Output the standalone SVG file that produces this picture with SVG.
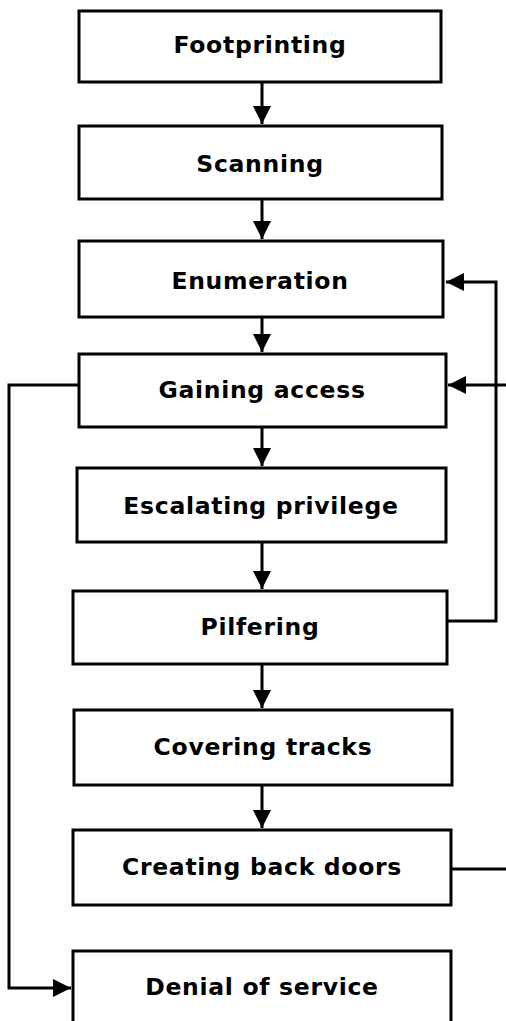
<svg xmlns="http://www.w3.org/2000/svg" width="506" height="1021" viewBox="0 0 506 1021">
<style>
.box{fill:#fff;stroke:#000;stroke-width:3}
.lbl{font-family:"DejaVu Sans",sans-serif;font-weight:bold;font-size:23.5px;letter-spacing:0.7px;fill:#000;text-anchor:middle}
.ln{fill:none;stroke:#000;stroke-width:3}
</style>
<defs>
<marker id="ah" viewBox="0 0 10 10" refX="10" refY="5" markerWidth="6" markerHeight="6" orient="auto" markerUnits="strokeWidth">
<path d="M0,0 L10,5 L0,10 z" fill="#000"/>
</marker>
</defs>
<rect width="506" height="1021" fill="#fff"/>
<g id="connectors">
<line class="ln" x1="262" y1="82" x2="262" y2="124" marker-end="url(#ah)"/>
<line class="ln" x1="262" y1="199" x2="262" y2="239" marker-end="url(#ah)"/>
<line class="ln" x1="262" y1="317" x2="262" y2="352" marker-end="url(#ah)"/>
<line class="ln" x1="262" y1="427" x2="262" y2="466" marker-end="url(#ah)"/>
<line class="ln" x1="262" y1="542" x2="262" y2="589" marker-end="url(#ah)"/>
<line class="ln" x1="262" y1="664" x2="262" y2="708" marker-end="url(#ah)"/>
<line class="ln" x1="262" y1="785" x2="262" y2="828" marker-end="url(#ah)"/>
<polyline class="ln" points="447,621 496,621 496,282 446,282" marker-end="url(#ah)"/>
<line class="ln" x1="506" y1="385" x2="448" y2="385" marker-end="url(#ah)"/>
<line class="ln" x1="451" y1="869" x2="506" y2="869"/>
<polyline class="ln" points="79,385 9,385 9,988 71,988" marker-end="url(#ah)"/>
</g>
<g id="footprinting"><rect class="box" x="79" y="11" width="362" height="71"/><text class="lbl" x="260" y="53">Footprinting</text></g>
<g id="scanning"><rect class="box" x="79" y="126" width="363" height="73"/><text class="lbl" x="260" y="172">Scanning</text></g>
<g id="enumeration"><rect class="box" x="79" y="241" width="364" height="76"/><text class="lbl" x="260" y="289">Enumeration</text></g>
<g id="gaining-access"><rect class="box" x="79" y="354" width="367" height="73"/><text class="lbl" x="262" y="398">Gaining access</text></g>
<g id="escalating-privilege"><rect class="box" x="77" y="468" width="369" height="74"/><text class="lbl" x="261" y="514">Escalating privilege</text></g>
<g id="pilfering"><rect class="box" x="73" y="591" width="374" height="73"/><text class="lbl" x="260" y="635">Pilfering</text></g>
<g id="covering-tracks"><rect class="box" x="74" y="710" width="378" height="75"/><text class="lbl" x="263" y="755">Covering tracks</text></g>
<g id="creating-back-doors"><rect class="box" x="73" y="830" width="378" height="75"/><text class="lbl" x="262" y="875">Creating back doors</text></g>
<g id="denial-of-service"><rect class="box" x="73" y="951" width="378" height="80"/><text class="lbl" x="262" y="995">Denial of service</text></g>
</svg>
